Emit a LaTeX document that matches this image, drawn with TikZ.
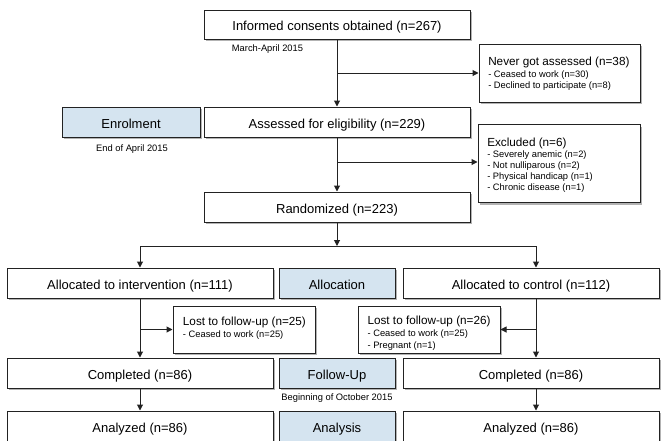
\documentclass[tikz,border=0pt]{standalone}
\usepackage{fontspec}
\setmainfont{Liberation Sans}
\usetikzlibrary{shadows,arrows.meta}
\definecolor{phase}{HTML}{D5E4F0}
\definecolor{edge}{HTML}{222222}
\begin{document}
\begin{tikzpicture}[x=0.75pt,y=-0.75pt,
  box/.style={draw=edge, line width=0.75pt, fill=white, inner sep=0pt,
    drop shadow={shadow xshift=1.6pt, shadow yshift=-1.6pt, fill=black!50, opacity=0.6},
    font=\fontsize{9.75}{11}\selectfont},
  mainbox/.style={box, minimum width=199.5pt, minimum height=22.5pt, text height=9pt, text depth=0pt},
  phasebox/.style={box, fill=phase, minimum height=22.5pt, text height=9pt, text depth=0pt},
  sidebox/.style={box},
  note/.style={font=\fontsize{7}{8.4}\selectfont, inner sep=0pt},
  sidetext/.style={font=\fontsize{7}{8.25}\selectfont, align=left, inner sep=0pt, anchor=north west},
  arr/.style={-{Triangle[length=4.5pt,width=4.5pt]}, line width=0.75pt, draw=edge},
  ln/.style={line width=0.75pt, draw=edge}
]
\useasboundingbox (0,0) rectangle (664,440);

% top section
\node[mainbox, minimum height=21.75pt] (inf) at (337,24.5) {Informed consents obtained (n=267)};
\node[note] (dateA) at (267.5,49) {March-April 2015};
\node[sidebox, minimum width=120.75pt, minimum height=43.5pt] (never) at (559.5,73) {};
\node[sidetext] (nevert) at (488,56.5) {{\fontsize{8.8}{10}\selectfont Never got assessed (n=38)}\\[0.6pt]- Ceased to work (n=30)\\- Declined to participate (n=8)};

\node[phasebox, minimum width=103.5pt] (enrol) at (131,122) {Enrolment};
\node[mainbox] (assess) at (337,122) {Assessed for eligibility (n=229)};
\node[note] (dateB) at (132,149) {End of April 2015};

\node[sidebox, minimum width=121.5pt, minimum height=58.5pt] (excl) at (559,163.5) {};
\node[sidetext] (exclt) at (487,137.3) {{\fontsize{8.8}{10}\selectfont Excluded (n=6)}\\[0.3pt]- Severely anemic (n=2)\\- Not nulliparous (n=2)\\- Physical handicap (n=1)\\- Chronic disease (n=1)};

\node[mainbox] (rand) at (337,207) {Randomized (n=223)};

% allocation
\node[mainbox] (allocI) at (140,283) {Allocated to intervention (n=111)};
\node[phasebox, minimum width=87pt] (alloc) at (337,283) {Allocation};
\node[mainbox, minimum width=192pt] (allocC) at (531,283) {Allocated to control (n=112)};

% follow-up
\node[sidebox, minimum width=106.5pt, minimum height=35.25pt] (lostI) at (244,329.5) {};
\node[sidetext] (lostIt) at (182.7,316.6) {{\fontsize{8.8}{10}\selectfont Lost to follow-up (n=25)}\\[1.2pt]- Ceased to work (n=25)};
\node[sidebox, minimum width=106.5pt, minimum height=35.25pt] (lostC) at (429,329.5) {};
\node[sidetext, font=\fontsize{7}{9}\selectfont] (lostCt) at (367.3,315.6) {{\fontsize{8.8}{10}\selectfont Lost to follow-up (n=26)}\\[0.4pt]- Ceased to work (n=25)\\- Pregnant (n=1)};

\node[mainbox] (compI) at (140,373) {Completed (n=86)};
\node[phasebox, minimum width=87pt] (follow) at (337,373) {Follow-Up};
\node[mainbox, minimum width=192pt] (compC) at (531,373) {Completed (n=86)};
\node[note] (dateC) at (337,398) {Beginning of October 2015};

% analysis
\node[mainbox] (anaI) at (140,426) {Analyzed (n=86)};
\node[phasebox, minimum width=87pt] (ana) at (337,426) {Analysis};
\node[mainbox, minimum width=192pt] (anaC) at (531,426) {Analyzed (n=86)};

% connectors
\draw[arr] (inf.south) -- (assess.north);
\draw[arr] (inf.south |- never.west) -- (never.west);
\draw[arr] (assess.south) -- (rand.north);
\coordinate (exj) at (337,162);
\draw[arr] (exj) -- (exj -| excl.west);
\coordinate (split) at (337,246);
\coordinate (lj) at (140,246);
\coordinate (rj) at (536,246);
\draw[ln] (lj) -- (rj);
\draw[arr] (rand.south) -- (split);
\draw[arr] (lj) -- (allocI.north);
\draw[arr] (rj) -- (rj |- allocC.north);
\draw[arr] (allocI.south) -- (compI.north);
\draw[arr] (allocI.south |- lostI.west) -- (lostI.west);
\draw[arr] (rj |- allocC.south) -- (rj |- compC.north);
\draw[arr] (rj |- lostC.east) -- (lostC.east);
\draw[arr] (compI.south) -- (anaI.north);
\draw[arr] (rj |- compC.south) -- (rj |- anaC.north);
\end{tikzpicture}
\end{document}
